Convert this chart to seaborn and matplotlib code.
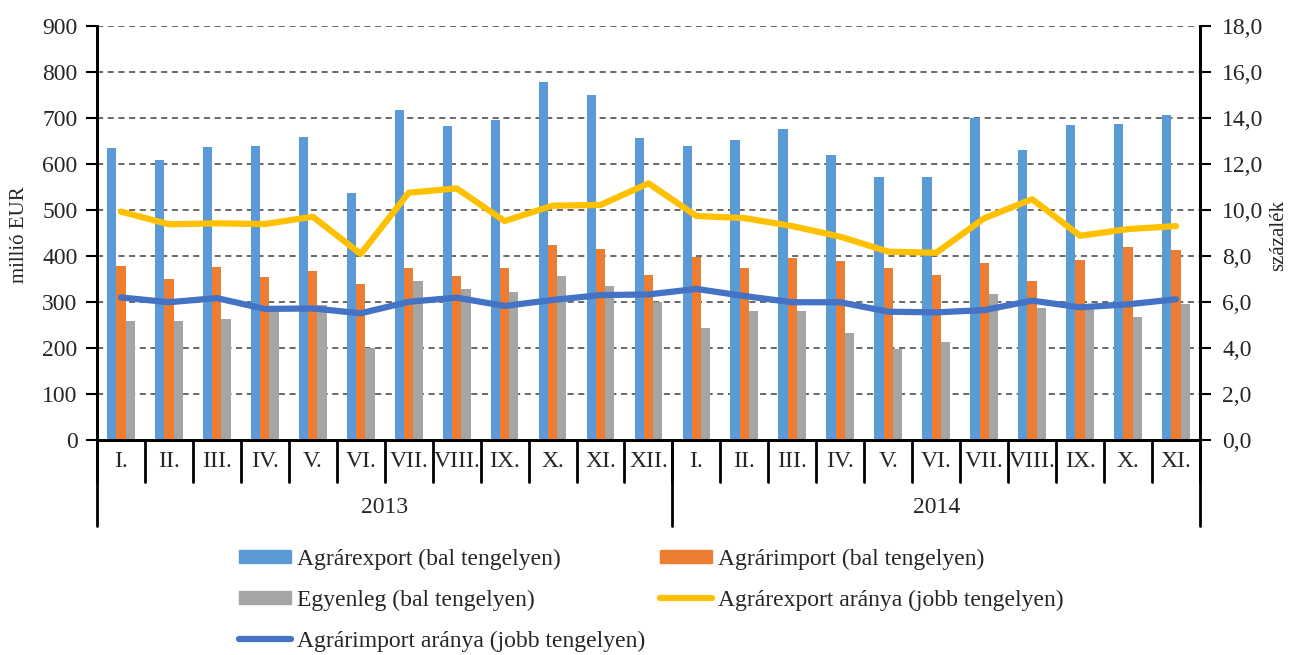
import numpy as np
import pandas as pd
import matplotlib
matplotlib.use('Agg')
import matplotlib.pyplot as plt
import matplotlib.transforms as mtransforms
from matplotlib.patches import Patch
from matplotlib.lines import Line2D
import seaborn as sns

# data
months = ['I.', 'II.', 'III.', 'IV.', 'V.', 'VI.', 'VII.', 'VIII.', 'IX.', 'X.', 'XI.', 'XII.',
          'I.', 'II.', 'III.', 'IV.', 'V.', 'VI.', 'VII.', 'VIII.', 'IX.', 'X.', 'XI.']
years = ['2013', '2014']
year_months = [12, 11]

export = [635, 608, 638, 640, 658, 538, 717, 683, 696, 778, 750, 656,
          640, 653, 676, 619, 572, 572, 701, 630, 685, 686, 707]
imports = [378, 351, 377, 354, 367, 339, 374, 356, 375, 423, 416, 359,
           398, 375, 396, 389, 375, 359, 385, 346, 391, 420, 412]
balance = [258, 258, 263, 286, 293, 201, 345, 328, 322, 357, 335, 299,
           244, 280, 281, 233, 198, 214, 318, 288, 294, 268, 296]
export_share = [9.93, 9.38, 9.42, 9.39, 9.71, 8.09, 10.75, 10.94, 9.52, 10.19, 10.22, 11.16,
                9.74, 9.65, 9.30, 8.84, 8.19, 8.14, 9.64, 10.47, 8.88, 9.17, 9.30]
import_share = [6.20, 5.99, 6.17, 5.70, 5.72, 5.51, 6.01, 6.19, 5.83, 6.09, 6.30, 6.33,
                6.57, 6.26, 5.99, 5.99, 5.58, 5.55, 5.65, 6.06, 5.77, 5.90, 6.12]

lab_exp = 'Agrárexport (bal tengelyen)'
lab_imp = 'Agrárimport (bal tengelyen)'
lab_bal = 'Egyenleg (bal tengelyen)'
lab_exps = 'Agrárexport aránya (jobb tengelyen)'
lab_imps = 'Agrárimport aránya (jobb tengelyen)'

c_exp, c_imp, c_bal = '#5B9BD5', '#ED7D31', '#A5A5A5'
c_exps, c_imps = '#FFC000', '#4472C4'

n = len(months)
idx = list(range(n))
df = pd.DataFrame({
    'idx': idx * 3,
    'value': export + imports + balance,
    'series': [lab_exp] * n + [lab_imp] * n + [lab_bal] * n,
})

sns.set_theme(style='white')
plt.rcParams['font.family'] = ['Liberation Serif', 'DejaVu Serif']

fs = 17
fig = plt.figure(figsize=(12.96, 6.55), dpi=100)
ax = fig.add_axes([0.0748, 0.3282, 0.8511, 0.6321])

sns.barplot(data=df, x='idx', y='value', hue='series', palette=[c_exp, c_imp, c_bal],
            width=0.58, gap=0, linewidth=0, saturation=1, legend=False, ax=ax, zorder=2)

ax.set_ylim(0, 900)
ax.set_yticks(range(0, 901, 100))
ax.set_xlim(-0.5, n - 0.5)
ax.yaxis.grid(True, linestyle=(0, (4, 3)), color='#404040', linewidth=1.1)
ax.set_axisbelow(True)
ax.set_xticks([])
ax.set_xlabel('')
ax.set_ylabel('')
ax.tick_params(axis='y', labelsize=fs, length=8, width=1.5, direction='out', color='black', pad=6, left=True)
for s in ['left', 'bottom', 'right']:
    ax.spines[s].set_color('black')
    ax.spines[s].set_linewidth(2)
ax.spines['top'].set_visible(False)

ax2 = ax.twinx()
sns.lineplot(x=idx, y=export_share, color=c_exps, linewidth=4.5, ax=ax2, zorder=3)
sns.lineplot(x=idx, y=import_share, color=c_imps, linewidth=4.5, ax=ax2, zorder=3)
ax2.set_ylim(0, 18)
ax2.set_yticks(np.arange(0, 18.1, 2))
ax2.set_yticklabels([f'{v:.1f}'.replace('.', ',') for v in np.arange(0, 18.1, 2)])
ax2.set_ylabel('')
ax2.tick_params(axis='y', labelsize=fs, length=8, width=1.5, direction='out', color='black', pad=8, right=True)
ax2.grid(False)
for s in ['left', 'bottom', 'right']:
    ax2.spines[s].set_color('black')
    ax2.spines[s].set_linewidth(2)
ax2.spines['top'].set_visible(False)
ax2.set_xlim(-0.5, n - 0.5)

# axis titles
fig.text(20 / 1296, 0.641, 'millió EUR', rotation=90, ha='center', va='center', fontsize=15)
fig.text(1279 / 1296, 0.641, 'százalék', rotation=90, ha='center', va='center', fontsize=15)

# multi-level category axis
tr = mtransforms.blended_transform_factory(ax.transData, ax.transAxes)
for k in range(n + 1):
    ax.plot([k - 0.5, k - 0.5], [0, -0.1014], color='black', lw=2, transform=tr, clip_on=False)
for i, m in enumerate(months):
    ax.text(i, -0.053, m, transform=tr, ha='center', va='center', fontsize=fs)
start = 0
for y, cnt in zip(years, year_months):
    ax.plot([start - 0.5, start - 0.5], [0, -0.2077], color='black', lw=2, transform=tr, clip_on=False)
    ax.text(start + (cnt - 1) / 2, -0.164, y, transform=tr, ha='center', va='center', fontsize=fs)
    start += cnt
ax.plot([start - 0.5, start - 0.5], [0, -0.2077], color='black', lw=2, transform=tr, clip_on=False)

handles = [
    Patch(color=c_exp, label=lab_exp),
    Patch(color=c_bal, label=lab_bal),
    Line2D([], [], color=c_imps, lw=4.5, solid_capstyle='round', label=lab_imps),
    Patch(color=c_imp, label=lab_imp),
    Line2D([], [], color=c_exps, lw=4.5, solid_capstyle='round', label=lab_exps),
]
fig.legend(handles=handles, ncol=2, loc='upper left', bbox_to_anchor=(0.1844, 0.1625),
           frameon=False, fontsize=fs, handlelength=2.2, handleheight=0.5, handletextpad=0.25,
           labelspacing=0.84, columnspacing=0.65, borderaxespad=0, borderpad=0)

fig.savefig('out.png', dpi=100)
